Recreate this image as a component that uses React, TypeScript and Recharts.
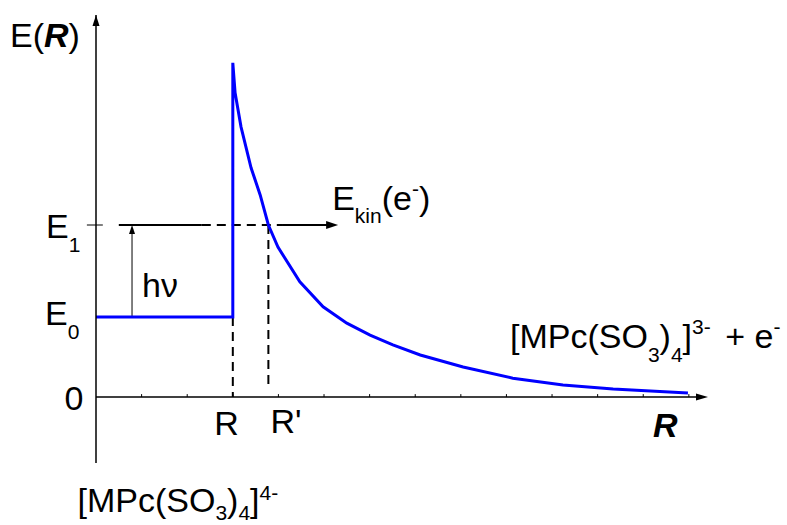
import React from 'react';
import { ComposedChart, Line, XAxis, YAxis, ReferenceLine, ReferenceDot } from 'recharts';

// ---- data (energy diagram, arbitrary units) ----
const curveR = [0, 3, 3, 3.05, 3.18, 3.4, 3.6, 3.78, 3.99, 4.47, 4.98, 5.5, 6.01, 6.51, 7.11, 8.05, 9.14, 10.24, 11.34, 12.98];
const curveE = [2.21, 2.21, 9.23, 8.4, 7.46, 6.33, 5.58, 4.75, 4.14, 3.18, 2.49, 2.04, 1.71, 1.44, 1.16, 0.83, 0.52, 0.33, 0.22, 0.11];
const xTicks = [1, 2, 3, 4, 5, 6, 7, 8, 9, 10, 11, 12, 13];
const yTicks = [-0.77, 0.23, 1.23, 2.23, 3.23, 4.23, 5.23, 6.23, 7.23, 8.23, 9.23];
const E0 = 2.21;
const E1 = 4.75;
const R0 = 3;
const R1 = 3.78;
const X_MAX = 13.42;
const Y_MIN = -1.823;
const Y_MAX = 10.55;
const HV_X = 0.79;
const E1_LINE = [0.5, 2.32, 4.1, 5.31]; // solid start, dashed start, dashed end, arrow tip
const R1_DASH_END = 0.28;

const data = curveR.map((r, i) => ({ r, e: curveE[i] }));

const FONT = "'Liberation Sans', Arial, Helvetica, sans-serif";
const BIG = 34;
const SMALL = 21;

type DotProps = { cx?: number; cy?: number };

const arrowUp = (len: number, hw: number) => (p: DotProps) => {
  const cx = p.cx ?? 0;
  const cy = p.cy ?? 0;
  return <polygon points={`${cx},${cy} ${cx - hw},${cy + len} ${cx + hw},${cy + len}`} fill="#000" />;
};
const arrowRight = (len: number, hw: number) => (p: DotProps) => {
  const cx = p.cx ?? 0;
  const cy = p.cy ?? 0;
  return <polygon points={`${cx},${cy} ${cx - len},${cy - hw} ${cx - len},${cy + hw}`} fill="#000" />;
};

const label = (dx: number, dy: number, content: React.ReactNode) => (p: DotProps) => (
  <text
    x={(p.cx ?? 0) + dx}
    y={(p.cy ?? 0) + dy}
    fontFamily={FONT}
    fontSize={BIG}
    fill="#000"
    style={{ whiteSpace: 'pre' }}
  >
    {content}
  </text>
);

const sub = (t: string) => [
  <tspan key="s" fontSize={SMALL} dy={14}>{t}</tspan>,
];

export default function App() {
  return (
    <div style={{ position: 'absolute', left: 0, top: 0, width: 787, height: 525, background: '#fff' }}>
      <ComposedChart
        width={787}
        height={525}
        data={data}
        margin={{ top: 15, right: 79, bottom: 62, left: 96 }}
      >
        <XAxis dataKey="r" type="number" domain={[0, X_MAX]} allowDataOverflow hide />
        <YAxis
          type="number"
          domain={[Y_MIN, Y_MAX]}
          allowDataOverflow
          ticks={yTicks}
          mirror
          tick={false}
          tickSize={3}
          axisLine={{ stroke: '#000', strokeWidth: 1.5 }}
          tickLine={{ stroke: '#000', strokeWidth: 1 }}
        />

        {/* x axis */}
        <ReferenceLine
          segment={[{ x: 0, y: 0 }, { x: X_MAX - 0.1, y: 0 }]}
          stroke="#000"
          strokeWidth={1.5}
          ifOverflow="visible"
        />
        {xTicks.map((t) => (
          <ReferenceLine
            key={`xt${t}`}
            segment={[{ x: t, y: 0 }, { x: t, y: 0.08 }]}
            stroke="#000"
            strokeWidth={1}
            ifOverflow="visible"
          />
        ))}
        {/* E1 crossing tick */}
        <ReferenceLine
          segment={[{ x: -0.2, y: E1 }, { x: 0.15, y: E1 }]}
          stroke="#000"
          strokeWidth={1}
          ifOverflow="visible"
        />

        {/* E1 level with arrow */}
        <ReferenceLine
          segment={[{ x: E1_LINE[0], y: E1 }, { x: E1_LINE[1], y: E1 }]}
          stroke="#000"
          strokeWidth={2}
        />
        <ReferenceLine
          segment={[{ x: E1_LINE[1], y: E1 }, { x: E1_LINE[2], y: E1 }]}
          stroke="#000"
          strokeWidth={2}
          strokeDasharray="9 6"
        />
        <ReferenceLine
          segment={[{ x: E1_LINE[2], y: E1 }, { x: E1_LINE[3] - 0.15, y: E1 }]}
          stroke="#000"
          strokeWidth={2}
        />

        {/* dashed verticals */}
        <ReferenceLine
          segment={[{ x: R0, y: E0 }, { x: R0, y: 0 }]}
          stroke="#000"
          strokeWidth={2}
          strokeDasharray="9 6"
        />
        <ReferenceLine
          segment={[{ x: R1, y: E1 }, { x: R1, y: R1_DASH_END }]}
          stroke="#000"
          strokeWidth={2}
          strokeDasharray="9 6"
        />

        {/* h nu arrow */}
        <ReferenceLine
          segment={[{ x: HV_X, y: E0 }, { x: HV_X, y: E1 - 0.2 }]}
          stroke="#000"
          strokeWidth={1}
        />

        <Line
          dataKey="e"
          type="linear"
          stroke="#0000ff"
          strokeWidth={3}
          dot={false}
          activeDot={false}
          isAnimationActive={false}
        />

        {/* arrowheads */}
        <ReferenceDot x={0} y={Y_MAX} r={0} ifOverflow="visible" shape={arrowUp(11, 3.5)} />
        <ReferenceDot x={X_MAX} y={0} r={0} ifOverflow="visible" shape={arrowRight(12, 3.5)} />
        <ReferenceDot x={E1_LINE[3]} y={E1} r={0} ifOverflow="visible" shape={arrowRight(12, 4)} />
        <ReferenceDot x={HV_X} y={E1} r={0} ifOverflow="visible" shape={arrowUp(9, 3)} />

        {/* labels */}
        <ReferenceDot
          x={0}
          y={Y_MAX}
          r={0}
          ifOverflow="visible"
          shape={label(-86, 32, [
            <tspan key="a">E(</tspan>,
            <tspan key="b" fontWeight="bold" fontStyle="italic">R</tspan>,
            <tspan key="c">)</tspan>,
          ])}
        />
        <ReferenceDot
          x={0}
          y={E1}
          r={0}
          ifOverflow="visible"
          shape={label(-50, 13, [<tspan key="a">E</tspan>, ...sub('1')])}
        />
        <ReferenceDot
          x={0}
          y={E0}
          r={0}
          ifOverflow="visible"
          shape={label(-51, 8, [<tspan key="a">E</tspan>, ...sub('0')])}
        />
        <ReferenceDot x={0} y={0} r={0} ifOverflow="visible" shape={label(-31.5, 13, '0')} />
        <ReferenceDot x={HV_X} y={E0} r={0} ifOverflow="visible" shape={label(10, -20, 'hν')} />
        <ReferenceDot
          x={E1_LINE[3]}
          y={E1}
          r={0}
          ifOverflow="visible"
          shape={label(-6, -15, [
            <tspan key="a">E</tspan>,
            <tspan key="b" fontSize={SMALL} dy={13}>kin</tspan>,
            <tspan key="c" dy={-13}>(e</tspan>,
            <tspan key="d" fontSize={SMALL} dy={-14}>-</tspan>,
            <tspan key="e" dy={14}>)</tspan>,
          ])}
        />
        <ReferenceDot x={R0} y={0} r={0} ifOverflow="visible" shape={label(-18.5, 38, 'R')} />
        <ReferenceDot x={R1} y={0} r={0} ifOverflow="visible" shape={label(2, 36, "R'")} />
        <ReferenceDot
          x={X_MAX}
          y={0}
          r={0}
          ifOverflow="visible"
          shape={label(-55, 40, <tspan fontWeight="bold" fontStyle="italic">R</tspan>)}
        />
        <ReferenceDot
          x={X_MAX}
          y={0}
          r={0}
          ifOverflow="visible"
          shape={label(-198, -49, [
            <tspan key="a">[MPc(SO</tspan>,
            <tspan key="b" fontSize={SMALL} dy={14}>3</tspan>,
            <tspan key="c" dy={-14}>)</tspan>,
            <tspan key="d" fontSize={SMALL} dy={14}>4</tspan>,
            <tspan key="e" dy={-14}>]</tspan>,
            <tspan key="f" fontSize={SMALL} dy={-14}>3-</tspan>,
            <tspan key="g" dy={14} dx={5}> + e</tspan>,
            <tspan key="h" fontSize={SMALL} dy={-14}>-</tspan>,
          ])}
        />
        <ReferenceDot
          x={0}
          y={Y_MIN}
          r={0}
          ifOverflow="visible"
          shape={label(-18.5, 49, [
            <tspan key="a">[MPc(SO</tspan>,
            <tspan key="b" fontSize={SMALL} dy={8}>3</tspan>,
            <tspan key="c" dy={-8}>)</tspan>,
            <tspan key="d" fontSize={SMALL} dy={8}>4</tspan>,
            <tspan key="e" dy={-8}>]</tspan>,
            <tspan key="f" fontSize={SMALL} dy={-12}>4-</tspan>,
          ])}
        />
      </ComposedChart>
    </div>
  );
}
